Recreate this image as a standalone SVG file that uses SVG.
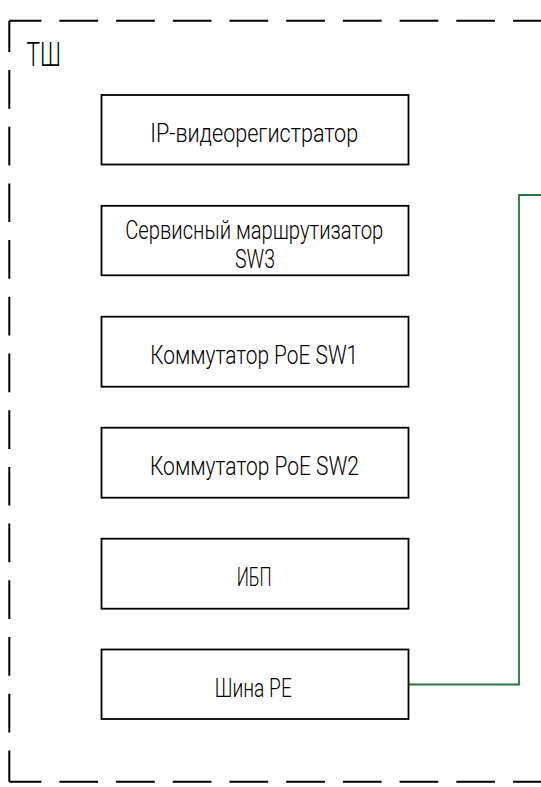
<svg xmlns="http://www.w3.org/2000/svg" width="541" height="787" viewBox="0 0 541 787">
  <style>
    .frame { stroke: #000; stroke-width: 2; fill: none; stroke-dasharray: 38.7 18; }
    .box { fill: #fff; stroke: #000; stroke-width: 1.8; }
    .lbl { font-family: Roboto, "Liberation Sans", sans-serif; font-weight: 300; font-size: 26px; fill: #000; text-anchor: middle; }
    .title { font-family: Roboto, "Liberation Sans", sans-serif; font-weight: 300; font-size: 34px; fill: #000; }
    .wire { stroke: #2a7340; stroke-width: 1.8; fill: none; }
  </style>
  <rect x="0" y="0" width="541" height="787" fill="#fff"/>
  <g id="frame">
    <line class="frame" x1="9.3" y1="20.7" x2="560" y2="20.7" stroke-dashoffset="6.6"/>
    <line class="frame" x1="9.3" y1="781.7" x2="560" y2="781.7" stroke-dashoffset="6.6"/>
    <line class="frame" x1="9.3" y1="20.7" x2="9.3" y2="781.7" stroke-dashoffset="7.4"/>
    <text class="title" x="26.5" y="65.5" textLength="34.5" lengthAdjust="spacingAndGlyphs">ТШ</text>
  </g>
  <g id="connectors">
    <polyline class="wire" points="408.3,684.5 519,684.5 519,195 545,195"/>
  </g>
  <g id="node-nvr">
    <rect class="box" x="101.5" y="95" width="307" height="69.5"/>
    <text class="lbl" x="254.2" y="142" textLength="208" lengthAdjust="spacingAndGlyphs">IP-видеорегистратор</text>
  </g>
  <g id="node-sw3">
    <rect class="box" x="101.5" y="205.8" width="307" height="69.5"/>
    <text class="lbl" x="254.2" y="239" textLength="258" lengthAdjust="spacingAndGlyphs">Сервисный маршрутизатор</text>
    <text class="lbl" x="255" y="268" textLength="40" lengthAdjust="spacingAndGlyphs">SW3</text>
  </g>
  <g id="node-sw1">
    <rect class="box" x="101.5" y="316.7" width="307" height="70"/>
    <text class="lbl" x="254.2" y="364" textLength="208" lengthAdjust="spacingAndGlyphs">Коммутатор PoE SW1</text>
  </g>
  <g id="node-sw2">
    <rect class="box" x="101.5" y="427.7" width="307" height="70"/>
    <text class="lbl" x="254.5" y="475" textLength="209" lengthAdjust="spacingAndGlyphs">Коммутатор PoE SW2</text>
  </g>
  <g id="node-ups">
    <rect class="box" x="101.5" y="538.7" width="307" height="70"/>
    <text class="lbl" x="254.2" y="585.5" textLength="35" lengthAdjust="spacingAndGlyphs">ИБП</text>
  </g>
  <g id="node-pe">
    <rect class="box" x="101.5" y="649.5" width="307" height="69.5"/>
    <text class="lbl" x="253.3" y="696.5" textLength="77" lengthAdjust="spacingAndGlyphs">Шина PE</text>
  </g>
</svg>
